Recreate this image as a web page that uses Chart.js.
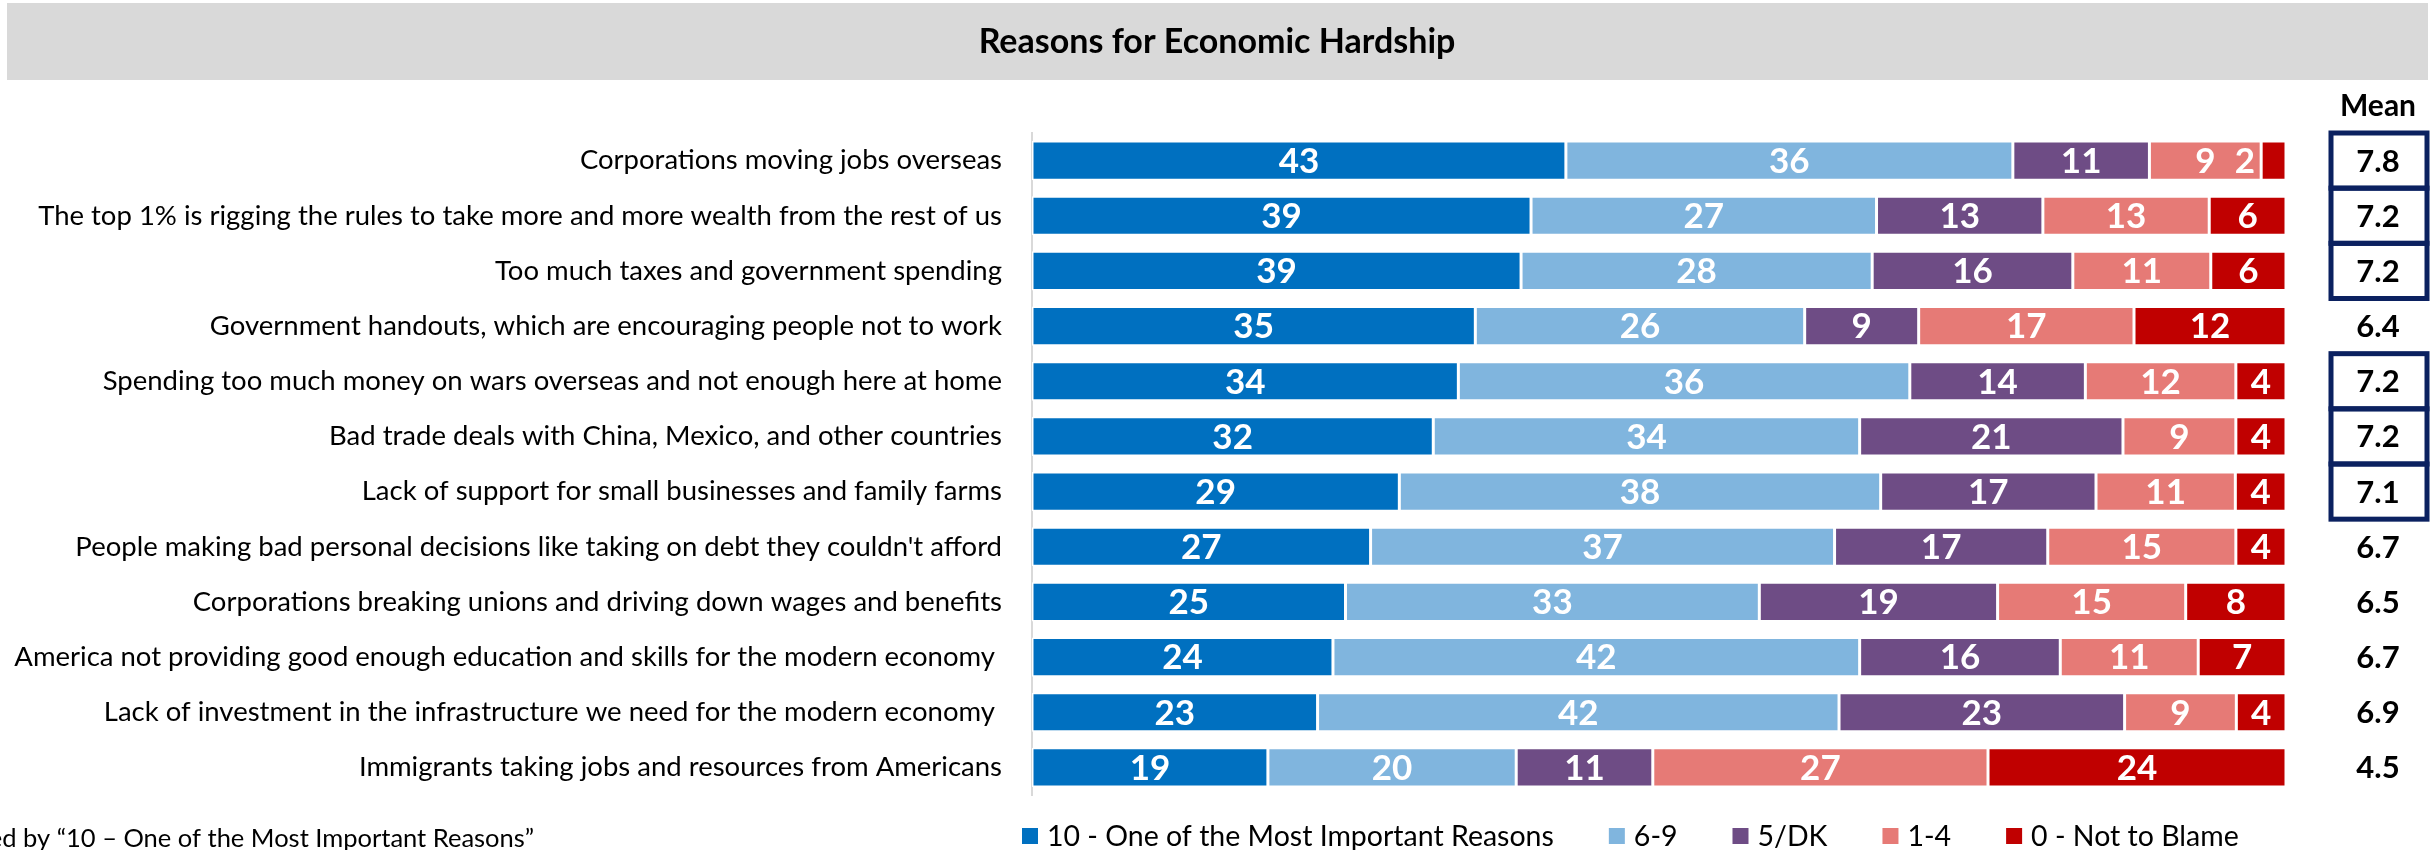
<!DOCTYPE html>
<html>
<head>
<meta charset="utf-8">
<title>Reasons for Economic Hardship</title>
<script src="https://cdn.jsdelivr.net/npm/chart.js@4.4.1/dist/chart.umd.min.js"></script>
<style>
  html, body { margin: 0; padding: 0; background: #fff; }
  #wrap { width: 2433px; height: 850px; }
</style>
</head>
<body>
<div id="wrap"><canvas id="hardshipChart" width="2433" height="850"></canvas></div>
<script>
// data
const chartTitle = 'Reasons for Economic Hardship';
const footNote = 'Ranked by “10 – One of the Most Important Reasons”';
const meanHeader = 'Mean';

const reasons = [
    'Corporations moving jobs overseas',
    'The top 1% is rigging the rules to take more and more wealth from the rest of us',
    'Too much taxes and government spending',
    'Government handouts, which are encouraging people not to work',
    'Spending too much money on wars overseas and not enough here at home',
    'Bad trade deals with China, Mexico, and other countries',
    'Lack of support for small businesses and family farms',
    "People making bad personal decisions like taking on debt they couldn't afford",
    'Corporations breaking unions and driving down wages and benefits',
    'America not providing good enough education and skills for the modern economy ',
    'Lack of investment in the infrastructure we need for the modern economy ',
    'Immigrants taking jobs and resources from Americans'
];

const seriesNames = ['10 - One of the Most Important Reasons', '6-9', '5/DK', '1-4', '0 - Not to Blame'];
const mostImportant = [43, 39, 39, 35, 34, 32, 29, 27, 25, 24, 23, 19];
const sixToNine     = [36, 27, 28, 26, 36, 34, 38, 37, 33, 42, 42, 20];
const fiveDK        = [11, 13, 16,  9, 14, 21, 17, 17, 19, 16, 23, 11];
const oneToFour     = [ 9, 13, 11, 17, 12,  9, 11, 15, 15, 11,  9, 27];
const notToBlame    = [ 2,  6,  6, 12,  4,  4,  4,  4,  8,  7,  4, 24];

const means = [7.8, 7.2, 7.2, 6.4, 7.2, 7.2, 7.1, 6.7, 6.5, 6.7, 6.9, 4.5];
const boxedMeans = [true, true, true, false, true, true, true, false, false, false, false, false];

const seriesColors = ['#0070c0', '#80b5de', '#6e4c85', '#e67a76', '#c00000'];
const FONT = 'Lato, "Open Sans", sans-serif';

const rawSeries = [mostImportant, sixToNine, fiveDK, oneToFour, notToBlame];
// every bar fills the full width, so each row is scaled to its own total
const rowTotals = reasons.map((r, i) => rawSeries.reduce((s, arr) => s + arr[i], 0));

const datasets = rawSeries.map((arr, k) => ({
    label: seriesNames[k],
    data: arr.map((v, i) => v / rowTotals[i] * 100),
    rawValues: arr,
    backgroundColor: seriesColors[k],
    borderColor: '#ffffff',
    borderWidth: 1.5,
    borderSkipped: false,
    barPercentage: 0.71,
    categoryPercentage: 1.0
}));

const extrasPlugin = {
    id: 'hardshipExtras',
    beforeDraw(chart) {
        const ctx = chart.ctx;
        ctx.save();
        ctx.fillStyle = '#ffffff';
        ctx.fillRect(0, 0, chart.width, chart.height);
        // title band
        ctx.fillStyle = '#d9d9d9';
        ctx.fillRect(7, 3, 2421, 77);
        ctx.fillStyle = '#000';
        ctx.font = 'bold 34px ' + FONT;
        ctx.textAlign = 'center';
        ctx.textBaseline = 'middle';
        ctx.fillText(chartTitle, 1217, 42);
        ctx.restore();
    },
    afterDatasetsDraw(chart) {
        const ctx = chart.ctx;
        ctx.save();
        ctx.font = 'bold 35px ' + FONT;
        ctx.fillStyle = '#ffffff';
        ctx.textBaseline = 'middle';
        chart.data.datasets.forEach((ds, k) => {
            const meta = chart.getDatasetMeta(k);
            meta.data.forEach((bar, i) => {
                const txt = String(ds.rawValues[i]);
                const w = ctx.measureText(txt).width;
                const left = Math.min(bar.x, bar.base);
                const segW = Math.abs(bar.x - bar.base);
                if (w + 10 > segW) {
                    // too narrow: put the number just left of the segment
                    ctx.textAlign = 'right';
                    ctx.fillText(txt, left - 6, bar.y + 1);
                } else {
                    ctx.textAlign = 'center';
                    ctx.fillText(txt, left + segW / 2, bar.y + 1);
                }
            });
        });
        ctx.restore();
    },
    afterDraw(chart) {
        const ctx = chart.ctx;
        const yScale = chart.scales.y;
        const band = (yScale.bottom - yScale.top) / reasons.length;
        const colX = 2378;
        ctx.save();

        // mean column
        ctx.fillStyle = '#000';
        ctx.textAlign = 'center';
        ctx.textBaseline = 'middle';
        ctx.font = 'bold 30px ' + FONT;
        ctx.fillText(meanHeader, colX, 106);
        ctx.font = 'bold 31px ' + FONT;
        means.forEach((m, i) => {
            const cy = yScale.getPixelForValue(i);
            if (boxedMeans[i]) {
                ctx.strokeStyle = '#0b2160';
                ctx.lineWidth = 5;
                ctx.strokeRect(2331, cy - band / 2, 96, band);
            }
            ctx.fillStyle = '#000';
            ctx.fillText(m.toFixed(1), colX, cy + 1);
        });

        // legend
        ctx.font = '28.5px ' + FONT;
        ctx.textAlign = 'left';
        let x = 1022;
        const ly = 836;
        chart.data.datasets.forEach(ds => {
            ctx.fillStyle = ds.backgroundColor;
            ctx.fillRect(x, ly - 8, 16, 16);
            ctx.fillStyle = '#000';
            ctx.fillText(ds.label, x + 25, ly + 1);
            x += 25 + ctx.measureText(ds.label).width + 55;
        });

        // note at bottom left (runs off the left edge in the original)
        ctx.font = '25.5px ' + FONT;
        ctx.textAlign = 'right';
        ctx.textBaseline = 'alphabetic';
        ctx.fillText(footNote, 534, 847);
        ctx.restore();
    }
};

const ctx = document.getElementById('hardshipChart').getContext('2d');
const hardshipChart = new Chart(ctx, {
    type: 'bar',
    data: {
        labels: reasons,
        datasets: datasets
    },
    options: {
        indexAxis: 'y',
        responsive: false,
        animation: false,
        devicePixelRatio: 1,
        layout: {
            padding: { top: 133, right: 147, bottom: 55, left: 0 }
        },
        plugins: {
            legend: { display: false },
            title: { display: false },
            tooltip: { enabled: false }
        },
        scales: {
            x: {
                stacked: true,
                min: 0,
                max: 100,
                display: false
            },
            y: {
                stacked: true,
                grid: { display: false, drawTicks: false },
                border: { display: true, color: '#d9d9d9', width: 2 },
                ticks: {
                    color: '#000',
                    padding: 30,
                    font: { family: FONT, size: 27.5 }
                },
                afterFit: scale => { scale.width = 1032; }
            }
        }
    },
    plugins: [extrasPlugin]
});
</script>
</body>
</html>
